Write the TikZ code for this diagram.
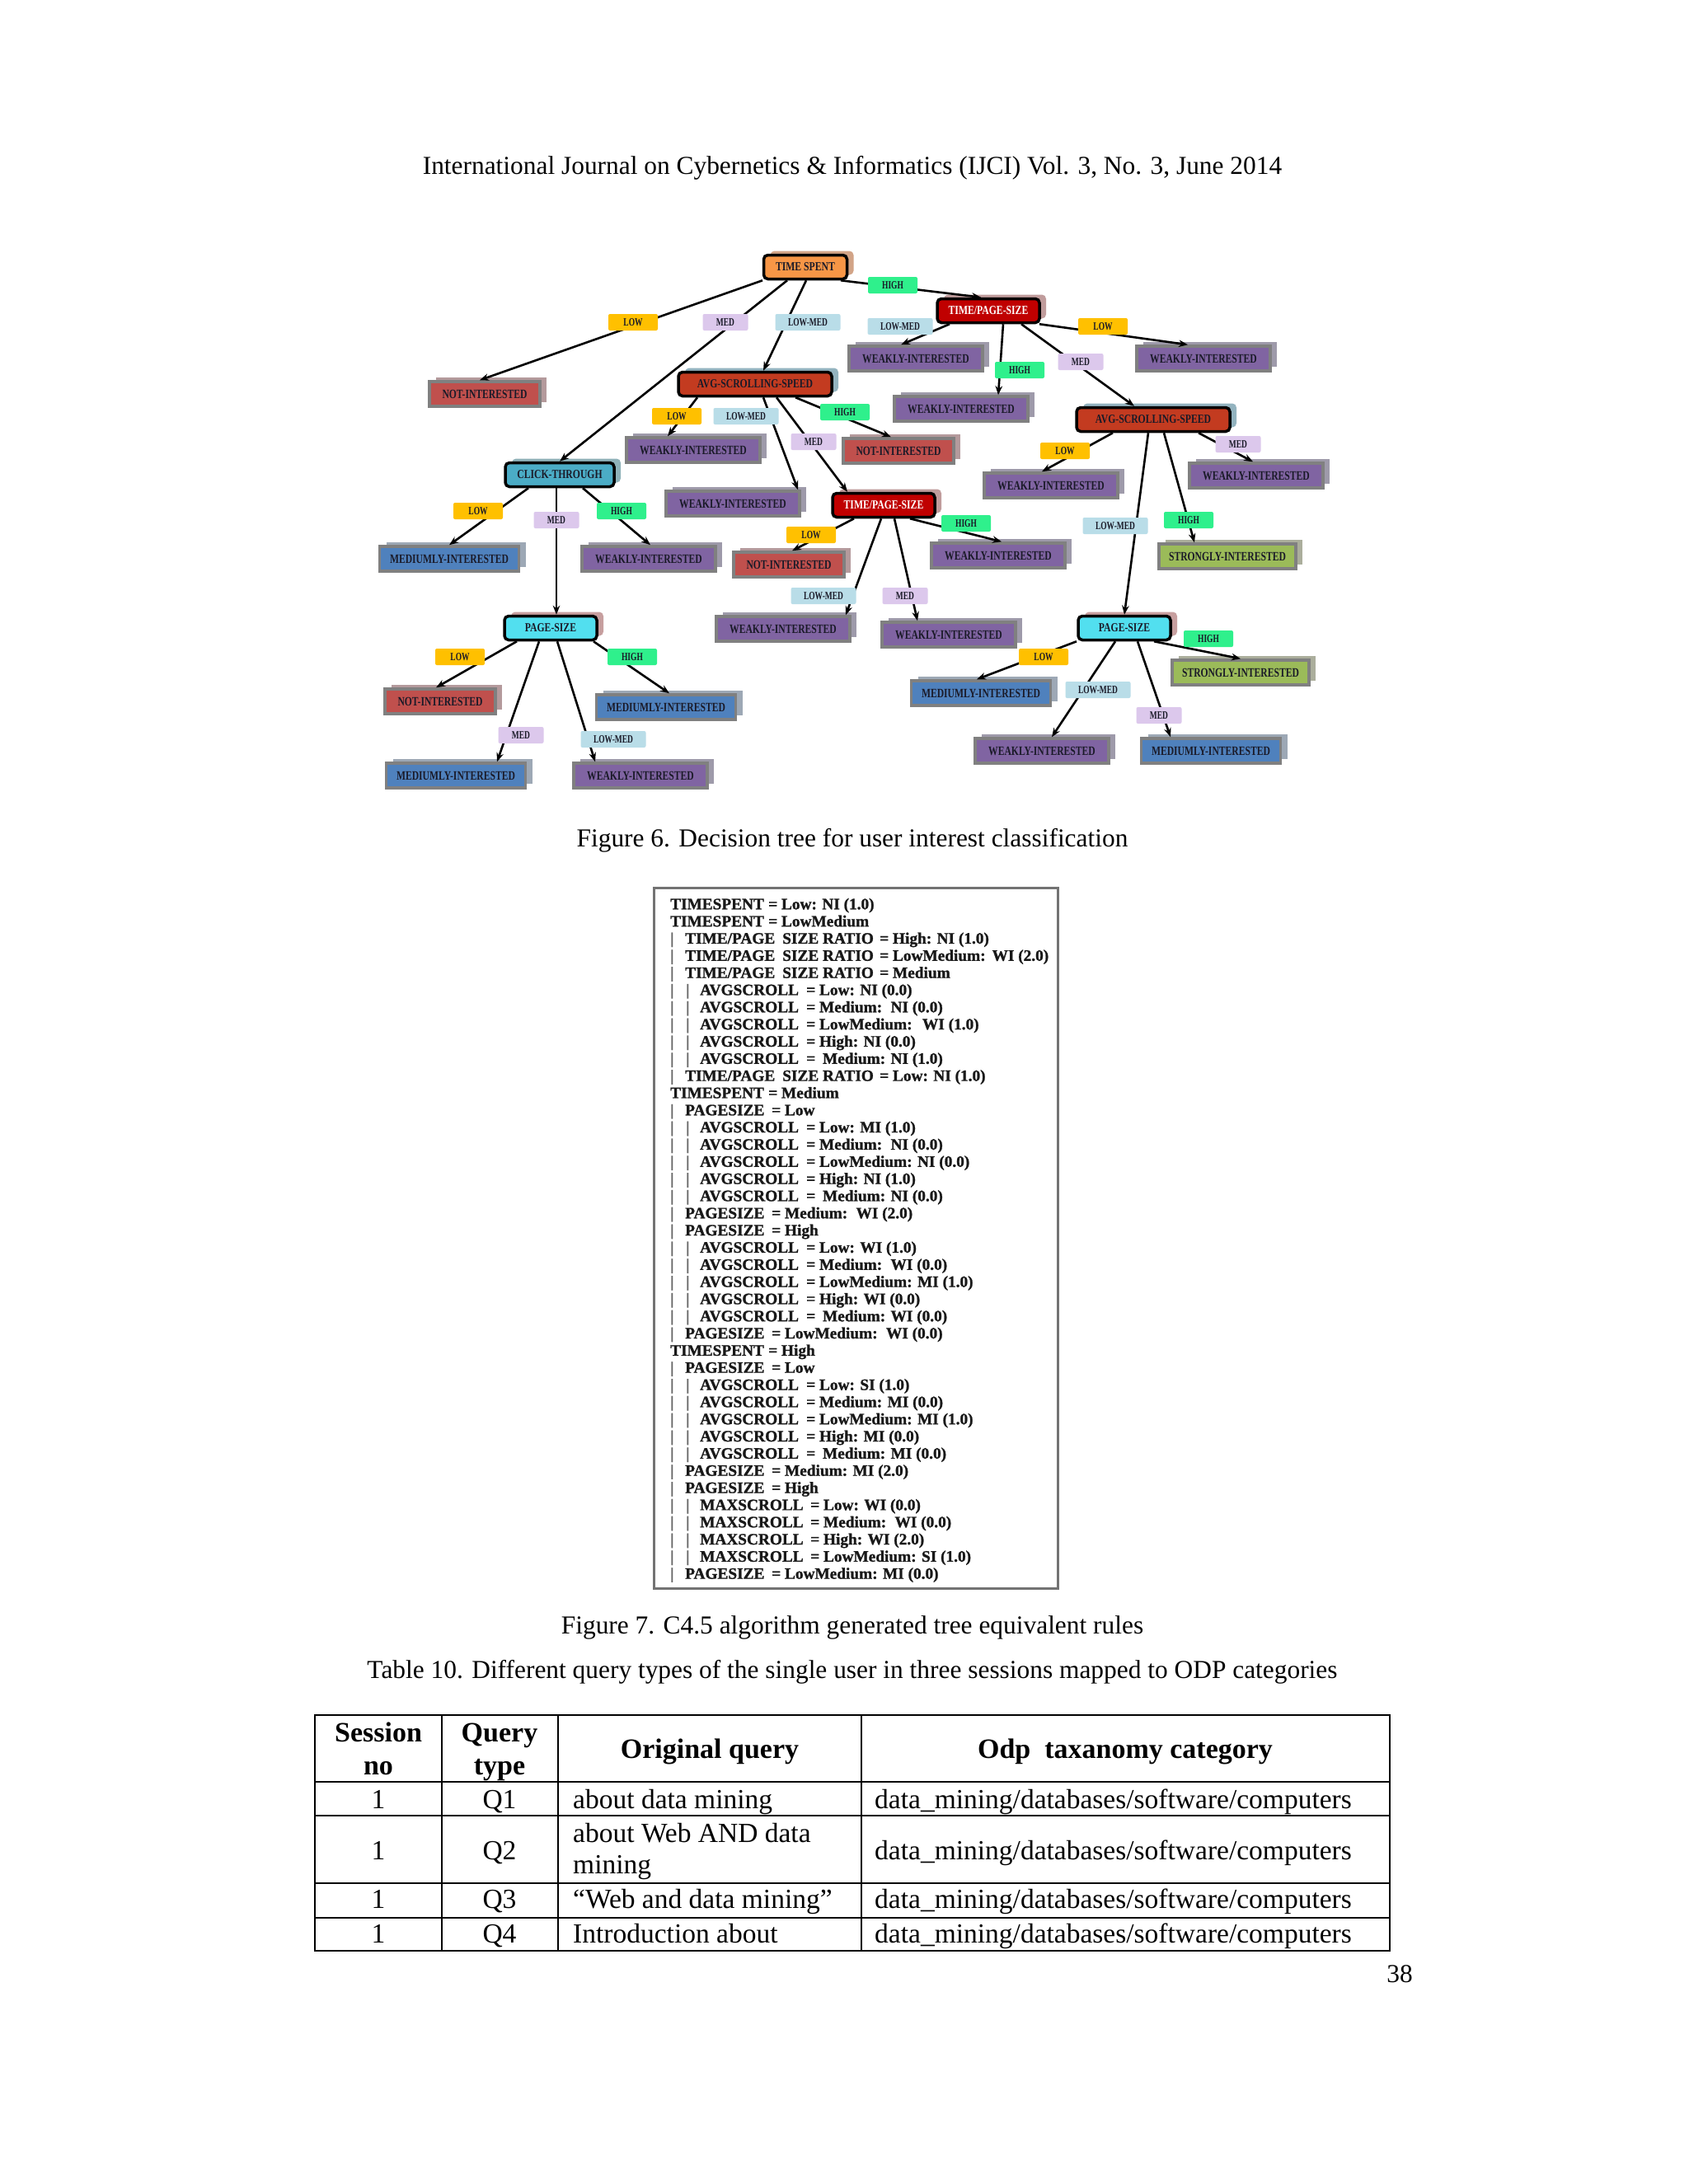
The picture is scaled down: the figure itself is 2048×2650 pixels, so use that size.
\documentclass[tikz,border=0pt]{standalone}
\usepackage{fontspec}
\usepackage{graphicx}
\setmainfont{Liberation Serif}
\newfontfamily\rulefont[FakeBold=1.2]{Liberation Serif Bold}
\usetikzlibrary{arrows.meta,shadows}
\definecolor{tsfill}{HTML}{F79646}
\definecolor{tsshad}{HTML}{D2A487}
\definecolor{tpsfill}{HTML}{C00000}
\definecolor{tpsshad}{HTML}{C09C9C}
\definecolor{avgfill}{HTML}{C33B20}
\definecolor{avgshad}{HTML}{93B3BF}
\definecolor{ctfill}{HTML}{4BACC6}
\definecolor{ctshad}{HTML}{8FB2B9}
\definecolor{psfill}{HTML}{52DFEF}
\definecolor{psshad}{HTML}{C79F9F}
\definecolor{nifill}{HTML}{C0504D}
\definecolor{nishad}{HTML}{B49A9C}
\definecolor{wifill}{HTML}{8064A2}
\definecolor{wishad}{HTML}{9E9AAA}
\definecolor{mifill}{HTML}{4F81BD}
\definecolor{mishad}{HTML}{9DA8B5}
\definecolor{sifill}{HTML}{9BBB59}
\definecolor{sishad}{HTML}{ABAE9C}
\definecolor{leafgray}{HTML}{808080}
\definecolor{lowc}{HTML}{FFC000}
\definecolor{medc}{HTML}{DCC8EC}
\definecolor{lmc}{HTML}{B9DDE8}
\definecolor{highc}{HTML}{2FF08C}
\definecolor{nodetext}{HTML}{1A1A28}
\newcommand\ntl[1]{\scalebox{0.75}[1]{#1}}
\newcommand\nti[1]{\scalebox{0.78}[1]{#1}}
\newcommand\ntb[1]{\scalebox{0.7}[1]{#1}}
\newcounter{rrow}
\newcommand\rr[4]{%
  \stepcounter{rrow}%
  \pgfmathsetmacro\ry{1103.3+20.83*(\value{rrow}-1)}%
  \ifnum#1>0 \node[rbar] (rba\arabic{rrow}) at (813,\ry) {|};\fi
  \ifnum#1>1 \node[rbar] (rbb\arabic{rrow}) at (832,\ry) {|};\fi
  \node[rt] (rn\arabic{rrow}) at ({813+18*#1},\ry) {#2};
  \node[rt] (rv\arabic{rrow}) at (#3,\ry) {= #4};
}
\tikzset{
  leafbase/.style={draw=leafgray, line width=3.5, minimum height=30, inner sep=0,
    font=\bfseries\fontsize{15.5}{15.5}\selectfont, text=nodetext,
    general shadow={fill=#1, shadow xshift=8pt, shadow yshift=5pt}},
  ni/.style={leafbase=nishad, fill=nifill, minimum width=134},
  wi/.style={leafbase=wishad, fill=wifill, minimum width=162},
  mi/.style={leafbase=mishad, fill=mifill, minimum width=169},
  si/.style={leafbase=sishad, fill=sifill, minimum width=166},
  inbase/.style={draw=black, line width=3.5, rounded corners=5, minimum height=29, inner sep=0,
    font=\bfseries\fontsize{15}{15}\selectfont, text=nodetext,
    general shadow={fill=#1, shadow xshift=8pt, shadow yshift=5pt, rounded corners=5}},
  tsn/.style={inbase=tsshad, fill=tsfill, minimum width=101},
  tpsn/.style={inbase=tpsshad, fill=tpsfill, minimum width=124, text=white},
  avgn/.style={inbase=avgshad, fill=avgfill, minimum width=186},
  ctn/.style={inbase=ctshad, fill=ctfill, minimum width=132},
  psn/.style={inbase=psshad, fill=psfill, minimum width=112},
  lab/.style={rounded corners=2, minimum height=20, inner sep=0,
    font=\bfseries\fontsize{13.5}{13.5}\selectfont, text=nodetext},
  lowl/.style={lab, fill=lowc, minimum width=60},
  medl/.style={lab, fill=medc, minimum width=55},
  lml/.style={lab, fill=lmc, minimum width=79},
  highl/.style={lab, fill=highc, minimum width=60},
  edge/.style={line width=2.6, -{Stealth[length=11pt,width=8.5pt]}},
  capt/.style={anchor=base, inner sep=0, font=\fontsize{31.4}{31.4}\selectfont},
  rt/.style={anchor=base west, inner sep=0, font=\rulefont\fontsize{19.3}{19.3}\selectfont, text=black!90},
  rbar/.style={rt, text=black!60},
  tc/.style={anchor=base, inner sep=0, font=\fontsize{33.5}{33.5}\selectfont},
  tl/.style={anchor=base west, inner sep=0, font=\fontsize{33.5}{33.5}\selectfont},
  th/.style={anchor=base, inner sep=0, font=\bfseries\fontsize{34}{34}\selectfont},
}
\begin{document}
\begin{tikzpicture}[x=1pt,y=-1pt]
\useasboundingbox (0,0) rectangle (2048,2650);
\fill[white] (0,0) rectangle (2048,2650);

% header
\node[capt] (hdr) at (1034,211) {International Journal on Cybernetics \& Informatics (IJCI) Vol. 3, No. 3, June 2014};

% ---------- decision tree: internal nodes
\node[tsn] (ts) at (977,324) {\nti{TIME SPENT}};
\node[tpsn] (tps1) at (1199,377) {\nti{TIME/PAGE-SIZE}};
\node[avgn] (avgL) at (916,466) {\nti{AVG-SCROLLING-SPEED}};
\node[avgn] (avgR) at (1399,509) {\nti{AVG-SCROLLING-SPEED}};
\node[ctn] (ct) at (679,576) {\nti{CLICK-THROUGH}};
\node[tpsn] (tps2) at (1072,613) {\nti{TIME/PAGE-SIZE}};
\node[psn] (psL) at (668,762) {\nti{PAGE-SIZE}};
\node[psn] (psR) at (1364,762) {\nti{PAGE-SIZE}};

% leaves
\node[ni] (niA) at (588,478) {\ntl{NOT-INTERESTED}};
\node[wi] (wiA) at (1111,435) {\ntl{WEAKLY-INTERESTED}};
\node[wi] (wiB) at (1460,435) {\ntl{WEAKLY-INTERESTED}};
\node[wi] (wiC) at (1166,496) {\ntl{WEAKLY-INTERESTED}};
\node[wi] (wiD) at (841,546) {\ntl{WEAKLY-INTERESTED}};
\node[wi] (wiE) at (889,611) {\ntl{WEAKLY-INTERESTED}};
\node[ni] (niB) at (1090,547) {\ntl{NOT-INTERESTED}};
\node[mi] (miA) at (545,678) {\ntl{MEDIUMLY-INTERESTED}};
\node[wi] (wiF) at (787,678) {\ntl{WEAKLY-INTERESTED}};
\node[ni] (niC) at (957,685) {\ntl{NOT-INTERESTED}};
\node[wi] (wiG) at (1211,674) {\ntl{WEAKLY-INTERESTED}};
\node[wi] (wiH) at (950,763) {\ntl{WEAKLY-INTERESTED}};
\node[wi] (wiI) at (1151,770) {\ntl{WEAKLY-INTERESTED}};
\node[wi] (wiJ) at (1275,589) {\ntl{WEAKLY-INTERESTED}};
\node[wi] (wiK) at (1524,577) {\ntl{WEAKLY-INTERESTED}};
\node[si] (siA) at (1489,675) {\ntl{STRONGLY-INTERESTED}};
\node[ni] (niD) at (534,851) {\ntl{NOT-INTERESTED}};
\node[mi] (miB) at (808,858) {\ntl{MEDIUMLY-INTERESTED}};
\node[mi] (miC) at (553,941) {\ntl{MEDIUMLY-INTERESTED}};
\node[wi] (wiL) at (777,941) {\ntl{WEAKLY-INTERESTED}};
\node[mi] (miD) at (1190,841) {\ntl{MEDIUMLY-INTERESTED}};
\node[si] (siB) at (1505,816) {\ntl{STRONGLY-INTERESTED}};
\node[wi] (wiM) at (1264,911) {\ntl{WEAKLY-INTERESTED}};
\node[mi] (miE) at (1469,911) {\ntl{MEDIUMLY-INTERESTED}};

% edges
\draw[edge] ([xshift=-52]ts.south) -- ([xshift=-6]niA.north);
\draw[edge] ([xshift=-22]ts.south) -- ([xshift=0]ct.north);
\draw[edge] ([xshift=1]ts.south) -- ([xshift=10]avgL.north);
\draw[edge] ([xshift=43]ts.south) -- ([xshift=-9]tps1.north);
\draw[edge] ([xshift=-47]tps1.south) -- ([xshift=-18]wiA.north);
\draw[edge] ([xshift=18]tps1.south) -- ([xshift=45]wiC.north);
\draw[edge] ([xshift=40]tps1.south) -- ([xshift=-23]avgR.north);
\draw[edge] ([xshift=62]tps1.south) -- ([xshift=-19]wiB.north);
\draw[edge] ([xshift=-70]avgL.south) -- ([xshift=-31]wiD.north);
\draw[edge] ([xshift=10]avgL.south) -- ([xshift=79]wiE.north);
\draw[edge] ([xshift=26]avgL.south) -- ([xshift=-44]tps2.north);
\draw[edge] ([xshift=49]avgL.south) -- ([xshift=-9]niB.north);
\draw[edge] ([xshift=-38]ct.south) -- ([xshift=0]miA.north);
\draw[edge] ([xshift=-4]ct.south) -- ([xshift=7]psL.north);
\draw[edge] ([xshift=28]ct.south) -- ([xshift=2]wiF.north);
\draw[edge] ([xshift=-36]tps2.south) -- ([xshift=4]niC.north);
\draw[edge] ([xshift=-3]tps2.south) -- ([xshift=76]wiH.north);
\draw[edge] ([xshift=13]tps2.south) -- ([xshift=-38]wiI.north);
\draw[edge] ([xshift=32]tps2.south) -- ([xshift=4]wiG.north);
\draw[edge] ([xshift=-49]avgR.south) -- ([xshift=-11]wiJ.north);
\draw[edge] ([xshift=-6]avgR.south) -- ([xshift=0]psR.north);
\draw[edge] ([xshift=13]avgR.south) -- ([xshift=-40]siA.north);
\draw[edge] ([xshift=55]avgR.south) -- ([xshift=-4]wiK.north);
\draw[edge] ([xshift=-41]psL.south) -- ([xshift=-5]niD.north);
\draw[edge] ([xshift=-14]psL.south) -- ([xshift=50]miC.north);
\draw[edge] ([xshift=8]psL.south) -- ([xshift=-55]wiL.north);
\draw[edge] ([xshift=52]psL.south) -- ([xshift=4]miB.north);
\draw[edge] ([xshift=-58]psR.south) -- ([xshift=-5]miD.north);
\draw[edge] ([xshift=-11]psR.south) -- ([xshift=12]wiM.north);
\draw[edge] ([xshift=16]psR.south) -- ([xshift=-49]miE.north);
\draw[edge] ([xshift=36]psR.south) -- ([xshift=0]siB.north);

% edge labels
\node[lowl] (l1) at (768,391) {\ntb{LOW}};
\node[medl] (l2) at (880,391) {\ntb{MED}};
\node[lml] (l3) at (980,391) {\ntb{LOW-MED}};
\node[highl] (l4) at (1083,346) {\ntb{HIGH}};
\node[lml] (l5) at (1092,396) {\ntb{LOW-MED}};
\node[highl] (l6) at (1237,449) {\ntb{HIGH}};
\node[medl] (l7) at (1311,439) {\ntb{MED}};
\node[lowl] (l8) at (1338,396) {\ntb{LOW}};
\node[lowl] (l9) at (821,505) {\ntb{LOW}};
\node[lml] (l10) at (905,505) {\ntb{LOW-MED}};
\node[medl] (l11) at (987,536) {\ntb{MED}};
\node[highl] (l12) at (1025,500) {\ntb{HIGH}};
\node[lowl] (l13) at (580,620) {\ntb{LOW}};
\node[medl] (l14) at (675,631) {\ntb{MED}};
\node[highl] (l15) at (754,620) {\ntb{HIGH}};
\node[lowl] (l16) at (984,649) {\ntb{LOW}};
\node[lml] (l17) at (999,723) {\ntb{LOW-MED}};
\node[medl] (l18) at (1098,723) {\ntb{MED}};
\node[highl] (l19) at (1172,635) {\ntb{HIGH}};
\node[lowl] (l20) at (1292,547) {\ntb{LOW}};
\node[lml] (l21) at (1353,638) {\ntb{LOW-MED}};
\node[highl] (l22) at (1442,631) {\ntb{HIGH}};
\node[medl] (l23) at (1502,539) {\ntb{MED}};
\node[lowl] (l24) at (558,797) {\ntb{LOW}};
\node[medl] (l25) at (632,892) {\ntb{MED}};
\node[lml] (l26) at (744,897) {\ntb{LOW-MED}};
\node[highl] (l27) at (767,797) {\ntb{HIGH}};
\node[lowl] (l28) at (1266,797) {\ntb{LOW}};
\node[lml] (l29) at (1332,837) {\ntb{LOW-MED}};
\node[medl] (l30) at (1406,868) {\ntb{MED}};
\node[highl] (l31) at (1466,775) {\ntb{HIGH}};

\node[capt] (cap6) at (1034,1027) {Figure 6. Decision tree for user interest classification};

% ---------- rules box
\draw[line width=3, black!55] (793,1077) rectangle (1283,1927);
\rr{0}{TIMESPENT}{932}{Low: NI (1.0)}
\rr{0}{TIMESPENT}{932}{LowMedium}
\rr{1}{TIME/PAGE\hspace{9pt}SIZE RATIO}{1067}{High: NI (1.0)}
\rr{1}{TIME/PAGE\hspace{9pt}SIZE RATIO}{1067}{LowMedium:\hspace{8pt}WI (2.0)}
\rr{1}{TIME/PAGE\hspace{9pt}SIZE RATIO}{1067}{Medium}
\rr{2}{AVGSCROLL}{978}{Low: NI (0.0)}
\rr{2}{AVGSCROLL}{978}{Medium:\hspace{4pt} NI (0.0)}
\rr{2}{AVGSCROLL}{978}{LowMedium:\hspace{6pt} WI (1.0)}
\rr{2}{AVGSCROLL}{978}{High: NI (0.0)}
\rr{2}{AVGSCROLL}{978}{\hspace{4pt}Medium: NI (1.0)}
\rr{1}{TIME/PAGE\hspace{9pt}SIZE RATIO}{1067}{Low: NI (1.0)}
\rr{0}{TIMESPENT}{932}{Medium}
\rr{1}{PAGESIZE}{936}{Low}
\rr{2}{AVGSCROLL}{978}{Low: MI (1.0)}
\rr{2}{AVGSCROLL}{978}{Medium:\hspace{4pt} NI (0.0)}
\rr{2}{AVGSCROLL}{978}{LowMedium: NI (0.0)}
\rr{2}{AVGSCROLL}{978}{High: NI (1.0)}
\rr{2}{AVGSCROLL}{978}{\hspace{4pt}Medium: NI (0.0)}
\rr{1}{PAGESIZE}{936}{Medium:\hspace{4pt} WI (2.0)}
\rr{1}{PAGESIZE}{936}{High}
\rr{2}{AVGSCROLL}{978}{Low: WI (1.0)}
\rr{2}{AVGSCROLL}{978}{Medium:\hspace{4pt} WI (0.0)}
\rr{2}{AVGSCROLL}{978}{LowMedium: MI (1.0)}
\rr{2}{AVGSCROLL}{978}{High: WI (0.0)}
\rr{2}{AVGSCROLL}{978}{\hspace{4pt}Medium: WI (0.0)}
\rr{1}{PAGESIZE}{936}{LowMedium:\hspace{4pt} WI (0.0)}
\rr{0}{TIMESPENT}{932}{High}
\rr{1}{PAGESIZE}{936}{Low}
\rr{2}{AVGSCROLL}{978}{Low: SI (1.0)}
\rr{2}{AVGSCROLL}{978}{Medium: MI (0.0)}
\rr{2}{AVGSCROLL}{978}{LowMedium: MI (1.0)}
\rr{2}{AVGSCROLL}{978}{High: MI (0.0)}
\rr{2}{AVGSCROLL}{978}{\hspace{4pt}Medium: MI (0.0)}
\rr{1}{PAGESIZE}{936}{Medium: MI (2.0)}
\rr{1}{PAGESIZE}{936}{High}
\rr{2}{MAXSCROLL}{983}{Low: WI (0.0)}
\rr{2}{MAXSCROLL}{983}{Medium:\hspace{4pt} WI (0.0)}
\rr{2}{MAXSCROLL}{983}{High: WI (2.0)}
\rr{2}{MAXSCROLL}{983}{LowMedium: SI (1.0)}
\rr{1}{PAGESIZE}{936}{LowMedium: MI (0.0)}

\node[capt] (cap7) at (1034,1982) {Figure 7. C4.5 algorithm generated tree equivalent rules};
\node[capt] (cap10) at (1034,2036) {Table 10. Different query types of the single user in three sessions mapped to ODP categories};

% ---------- table
\draw[line width=2.8] (382,2081) rectangle (1686,2367);
\draw[line width=2.8] (536,2081) -- (536,2367) (677,2081) -- (677,2367) (1045,2081) -- (1045,2367);
\draw[line width=2.8] (382,2162) -- (1686,2162) (382,2203) -- (1686,2203) (382,2285) -- (1686,2285) (382,2327) -- (1686,2327);
\node[th] (h1a) at (459,2113) {Session};
\node[th] (h1b) at (459,2153) {no};
\node[th] (h2a) at (606,2113) {Query};
\node[th] (h2b) at (606,2153) {type};
\node[th] (h3) at (861,2133) {Original query};
\node[th] (h4) at (1365,2133) {Odp\ \ taxanomy category};
\node[tc] (c11) at (459,2194) {1};
\node[tc] (c12) at (606,2194) {Q1};
\node[tl] (c13) at (695,2194) {about data mining};
\node[tl] (c14) at (1061,2194) {data\_mining/databases/software/computers};
\node[tc] (c21) at (459,2256) {1};
\node[tc] (c22) at (606,2256) {Q2};
\node[tl] (c23a) at (695,2235) {about Web AND data};
\node[tl] (c23b) at (695,2273) {mining};
\node[tl] (c24) at (1061,2256) {data\_mining/databases/software/computers};
\node[tc] (c31) at (459,2315) {1};
\node[tc] (c32) at (606,2315) {Q3};
\node[tl] (c33) at (695,2315) {“Web and data mining”};
\node[tl] (c34) at (1061,2315) {data\_mining/databases/software/computers};
\node[tc] (c41) at (459,2357) {1};
\node[tc] (c42) at (606,2357) {Q4};
\node[tl] (c43) at (695,2357) {Introduction about};
\node[tl] (c44) at (1061,2357) {data\_mining/databases/software/computers};

\node[capt] (pg) at (1698,2405) {38};
\end{tikzpicture}
\end{document}
